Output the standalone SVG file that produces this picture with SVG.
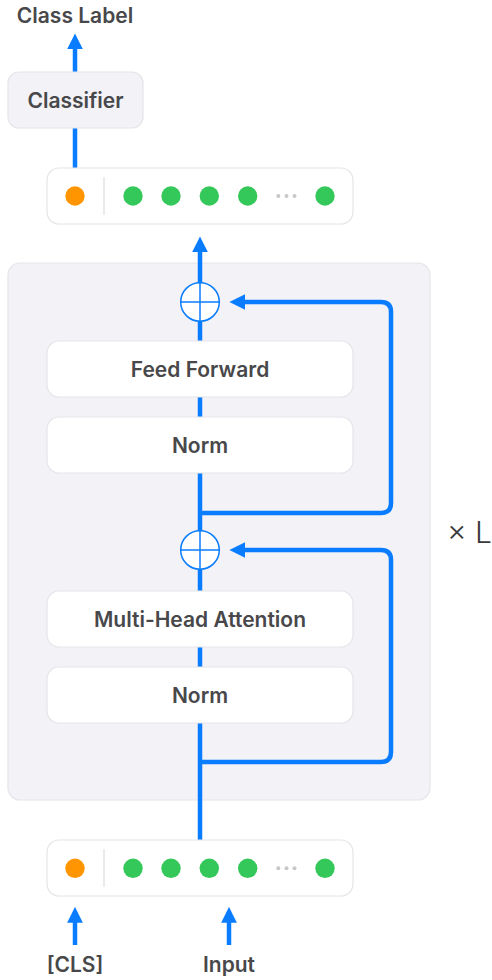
<svg xmlns="http://www.w3.org/2000/svg" width="492" height="980" viewBox="0 0 492 980">
<defs>
<style>
.lbl{font-family:Inter,"Noto Sans","Liberation Sans",sans-serif;font-weight:600;font-size:21px;fill:#48484a;text-anchor:middle;dominant-baseline:central}
.box{fill:#ffffff;stroke:#e5e5ea;stroke-width:1.2}
.gbox{fill:#f2f2f7;stroke:#e5e5ea;stroke-width:1.2}
.wire{fill:none;stroke:#0a7cff;stroke-width:4.5;stroke-linejoin:round}
.g{fill:#34c759}
.o{fill:#ff9500}
.d{fill:#c7c7cc}
.sep{stroke:#e5e5ea;stroke-width:1.5}
.sum{fill:#ffffff;stroke:#0a7cff;stroke-width:1.5}
</style>
<marker id="ah" viewBox="0 0 10 10" refX="2" refY="5" markerWidth="3.5" markerHeight="3.5" orient="auto" markerUnits="strokeWidth">
<path d="M0,0 L10,5 L0,10 Z" fill="#0a7cff"/>
</marker>
</defs>
<rect width="492" height="980" fill="#ffffff"/>

<g id="container">
<rect class="gbox" x="8" y="263" width="422" height="537" rx="12"/>
</g>

<g id="connectors">
<line class="wire" x1="75" y1="168" x2="75" y2="128"/>
<line class="wire" x1="75" y1="72" x2="75" y2="46" marker-end="url(#ah)"/>
<line class="wire" x1="200" y1="840" x2="200" y2="249" marker-end="url(#ah)"/>
<path class="wire" d="M200,513 H381 Q391,513 391,503 V312 Q391,302 381,302 H242" marker-end="url(#ah)"/>
<path class="wire" d="M200,762 H381 Q391,762 391,752 V560 Q391,550 381,550 H242" marker-end="url(#ah)"/>
<line class="wire" x1="75" y1="945" x2="75" y2="919.5" marker-end="url(#ah)"/>
<line class="wire" x1="229" y1="945" x2="229" y2="919.5" marker-end="url(#ah)"/>
</g>

<g id="label-class">
<text class="lbl" x="75" y="15">Class Label</text>
</g>

<g id="classifier">
<rect class="gbox" x="8" y="72" width="135" height="56" rx="11"/>
<text class="lbl" x="75.5" y="100">Classifier</text>
</g>

<g id="tokens-out">
<rect class="box" x="47" y="168" width="306" height="56" rx="12"/>
<circle class="o" cx="75" cy="196" r="9.7"/>
<line class="sep" x1="104" y1="177" x2="104" y2="215"/>
<circle class="g" cx="133" cy="196" r="9.7"/>
<circle class="g" cx="171" cy="196" r="9.7"/>
<circle class="g" cx="209.3" cy="196" r="9.7"/>
<circle class="g" cx="247.7" cy="196" r="9.7"/>
<circle class="d" cx="278.3" cy="196" r="2"/>
<circle class="d" cx="286.5" cy="196" r="2"/>
<circle class="d" cx="294.5" cy="196" r="2"/>
<circle class="g" cx="325" cy="196" r="9.7"/>
</g>

<g id="add-2">
<circle class="sum" cx="200" cy="302" r="19.3"/>
<line x1="180.7" y1="302" x2="219.3" y2="302" stroke="#0a7cff" stroke-width="1.5"/>
<line x1="200" y1="282.7" x2="200" y2="321.3" stroke="#0a7cff" stroke-width="1.5"/>
</g>

<g id="feed-forward">
<rect class="box" x="47" y="341" width="306" height="56" rx="12"/>
<text class="lbl" x="200" y="369">Feed Forward</text>
</g>

<g id="norm-2">
<rect class="box" x="47" y="417" width="306" height="56" rx="12"/>
<text class="lbl" x="200" y="445">Norm</text>
</g>

<g id="add-1">
<circle class="sum" cx="200" cy="550" r="19.3"/>
<line x1="180.7" y1="550" x2="219.3" y2="550" stroke="#0a7cff" stroke-width="1.5"/>
<line x1="200" y1="530.7" x2="200" y2="569.3" stroke="#0a7cff" stroke-width="1.5"/>
</g>

<g id="mha">
<rect class="box" x="47" y="591" width="306" height="56" rx="12"/>
<text class="lbl" x="200" y="619">Multi-Head Attention</text>
</g>

<g id="norm-1">
<rect class="box" x="47" y="667" width="306" height="56" rx="12"/>
<text class="lbl" x="200" y="695">Norm</text>
</g>

<g id="repeat">
<text x="447" y="543" style="font-family:Inter,'Noto Sans','Liberation Sans',sans-serif;font-weight:300;font-size:30px;fill:#3a3a3c">× L</text>
</g>

<g id="tokens-in">
<rect class="box" x="47" y="840" width="306" height="56" rx="12"/>
<circle class="o" cx="75" cy="868.3" r="9.7"/>
<line class="sep" x1="104" y1="849" x2="104" y2="887"/>
<circle class="g" cx="133" cy="868.3" r="9.7"/>
<circle class="g" cx="171" cy="868.3" r="9.7"/>
<circle class="g" cx="209.3" cy="868.3" r="9.7"/>
<circle class="g" cx="247.7" cy="868.3" r="9.7"/>
<circle class="d" cx="278.3" cy="868.3" r="2"/>
<circle class="d" cx="286.5" cy="868.3" r="2"/>
<circle class="d" cx="294.5" cy="868.3" r="2"/>
<circle class="g" cx="325" cy="868.3" r="9.7"/>
</g>

<g id="label-cls">
<text class="lbl" x="75" y="964">[CLS]</text>
</g>
<g id="label-input">
<text class="lbl" x="229" y="964">Input</text>
</g>
</svg>
